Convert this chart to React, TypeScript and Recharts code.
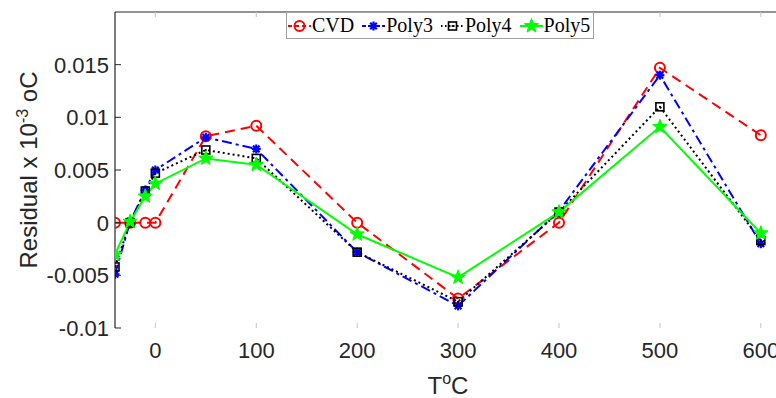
import { LineChart, Line, XAxis, YAxis } from 'recharts'

const temps = [-40, -25, -10, 0, 50, 100, 200, 300, 400, 500, 600]
const cvd = [0, 0, 0, 0, 0.0082, 0.0092, 0, -0.0072, 0, 0.0147, 0.0083]
const poly3 = [-0.0049, 0.0001, 0.0031, 0.005, 0.0081, 0.007, -0.0028, -0.0079, 0.0011, 0.014, -0.002]
const poly4 = [-0.0042, 0, 0.003, 0.0047, 0.0069, 0.0061, -0.0028, -0.0075, 0.001, 0.011, -0.0017]
const poly5 = [-0.003, 0.0001, 0.0025, 0.0037, 0.0061, 0.0055, -0.0011, -0.0052, 0.001, 0.0091, -0.001]
const xTicks = [0, 100, 200, 300, 400, 500, 600]
const yTicks = [-0.01, -0.005, 0, 0.005, 0.01, 0.015]

const data = temps.map((t, i) => ({ t, cvd: cvd[i], poly3: poly3[i], poly4: poly4[i], poly5: poly5[i] }))

const AX = '#262626'
const FONT = '"Liberation Sans", Arial, sans-serif'

const RED = '#ff0000'
const BLUE = '#0000ff'
const GREEN = '#00ff00'

function starPath(cx: number, cy: number, R: number) {
  const pts: string[] = []
  for (let i = 0; i < 10; i++) {
    const r = i % 2 === 0 ? R : R * 0.42
    const a = -Math.PI / 2 + (i * Math.PI) / 5
    pts.push(`${cx + r * Math.cos(a)},${cy + r * Math.sin(a)}`)
  }
  return 'M' + pts.join('L') + 'Z'
}

const CircleMark = ({ cx, cy }: any) => (
  <circle cx={cx} cy={cy} r={5} fill="none" stroke={RED} strokeWidth={2} />
)

const AsteriskMark = ({ cx, cy }: any) => (
  <g stroke={BLUE} strokeWidth={2.2}>
    <line x1={cx - 4.5} y1={cy} x2={cx + 4.5} y2={cy} />
    <line x1={cx} y1={cy - 4.5} x2={cx} y2={cy + 4.5} />
    <line x1={cx - 3.3} y1={cy - 3.3} x2={cx + 3.3} y2={cy + 3.3} />
    <line x1={cx - 3.3} y1={cy + 3.3} x2={cx + 3.3} y2={cy - 3.3} />
    <circle cx={cx} cy={cy} r={2.5} fill={BLUE} stroke="none" />
  </g>
)

const SquareMark = ({ cx, cy }: any) => (
  <g>
    <rect x={cx - 4} y={cy - 4} width={8} height={8} fill="none" stroke="#000" strokeWidth={1.6} />
    <circle cx={cx} cy={cy} r={1} fill="#000" />
  </g>
)

const StarMark = ({ cx, cy }: any) => <path d={starPath(cx, cy, 7.5)} fill={GREEN} stroke={GREEN} strokeWidth={1} />

const dotFn = (Mark: any) => (props: any) => <Mark key={props.index} cx={props.cx} cy={props.cy} />

const YTick = ({ x, y, payload }: any) => (
  <g>
    <line x1={x} y1={y} x2={x + 6} y2={y} stroke={AX} strokeWidth={1} />
    <text x={x - 6} y={y} dy="0.36em" textAnchor="end" fontSize={22} fill={AX} fontFamily={FONT}>
      {payload.value}
    </text>
  </g>
)

const XTick = ({ x, y, payload }: any) => (
  <g>
    <line x1={x} y1={y - 5} x2={x} y2={y} stroke="#c4c4c4" strokeWidth={1} />
    <text x={x} y={y + 30} textAnchor="middle" fontSize={22} fill={AX} fontFamily={FONT}>
      {payload.value}
    </text>
  </g>
)

const TopTick = ({ x, y }: any) => <line x1={x} y1={y} x2={x} y2={y + 5} stroke="#c4c4c4" strokeWidth={1} />

const legendItems = [
  { name: 'CVD', color: RED, dash: '4 3', Mark: CircleMark },
  { name: 'Poly3', color: BLUE, dash: '4 2 2 2', Mark: AsteriskMark },
  { name: 'Poly4', color: '#000', dash: '1.5 2.5', Mark: SquareMark },
  { name: 'Poly5', color: GREEN, dash: undefined, Mark: StarMark },
]

const LegendBox = () => (
  <div
    style={{
      position: 'absolute',
      left: 286,
      top: 12,
      display: 'flex',
      alignItems: 'center',
      background: '#fff',
      border: '1px solid #a0a0a0',
      height: 25,
      padding: '0 3px 0 0',
      fontFamily: '"Liberation Serif", "Times New Roman", serif',
      fontSize: 20,
      color: '#000',
      lineHeight: '25px',
    }}
  >
    {legendItems.map((it, i) => (
      <div key={it.name} style={{ display: 'flex', alignItems: 'center', marginRight: i < 3 ? 7 : 0 }}>
        <svg width={25} height={20}>
          <line x1={1} y1={10} x2={24} y2={10} stroke={it.color} strokeWidth={2} strokeDasharray={it.dash} />
          <it.Mark cx={12.5} cy={10} />
        </svg>
        <span>{it.name}</span>
      </div>
    ))}
  </div>
)

export default function App() {
  return (
    <div style={{ position: 'absolute', left: 0, top: 0, width: 776, height: 398, overflow: 'hidden', background: '#fff' }}>
      <LineChart width={800} height={398} data={data} margin={{ top: 11, right: 19, left: 55, bottom: 30 }}>
        <XAxis
          dataKey="t"
          type="number"
          domain={[-40, 620]}
          ticks={xTicks}
          axisLine={false}
          tickLine={false}
          tickSize={0}
          tickMargin={0}
          tick={<XTick />}
          height={40}
          allowDataOverflow
        />
        <XAxis
          xAxisId="top"
          orientation="top"
          dataKey="t"
          type="number"
          domain={[-40, 620]}
          ticks={xTicks}
          axisLine={{ stroke: AX, strokeWidth: 1.2 }}
          tickLine={false}
          tickSize={0}
          tickMargin={0}
          tick={<TopTick />}
          height={1}
          allowDataOverflow
        />
        <YAxis
          type="number"
          domain={[-0.01, 0.02]}
          ticks={yTicks}
          axisLine={{ stroke: AX, strokeWidth: 1.2 }}
          tickLine={false}
          tickSize={0}
          tickMargin={0}
          tick={<YTick />}
          width={60}
          allowDataOverflow
        />
        <Line
          dataKey="cvd"
          stroke={RED}
          strokeWidth={2}
          strokeDasharray="10 6"
          dot={dotFn(CircleMark)}
          isAnimationActive={false}
        />
        <Line
          dataKey="poly3"
          stroke={BLUE}
          strokeWidth={2}
          strokeDasharray="10 4 3 4"
          dot={dotFn(AsteriskMark)}
          isAnimationActive={false}
        />
        <Line
          dataKey="poly4"
          stroke="#000"
          strokeWidth={2}
          strokeDasharray="2 3"
          dot={dotFn(SquareMark)}
          isAnimationActive={false}
        />
        <Line
          dataKey="poly5"
          stroke={GREEN}
          strokeWidth={2}
          dot={dotFn(StarMark)}
          isAnimationActive={false}
        />
      </LineChart>
      <LegendBox />
      <svg style={{ position: 'absolute', left: 0, top: 0, pointerEvents: 'none' }} width={776} height={398}>
        <text
          transform="translate(37,170) rotate(-90)"
          textAnchor="middle"
          fontSize={24}
          fill={AX}
          fontFamily={FONT}
        >
          Residual x 10<tspan dy={-9} fontSize={16}>-3</tspan>
          <tspan dy={9}> oC</tspan>
        </text>
        <text x={448} y={394} textAnchor="middle" fontSize={24} fill={AX} fontFamily={FONT}>
          T<tspan dy={-10} fontSize={16}>o</tspan>
          <tspan dy={10}>C</tspan>
        </text>
      </svg>
    </div>
  )
}
